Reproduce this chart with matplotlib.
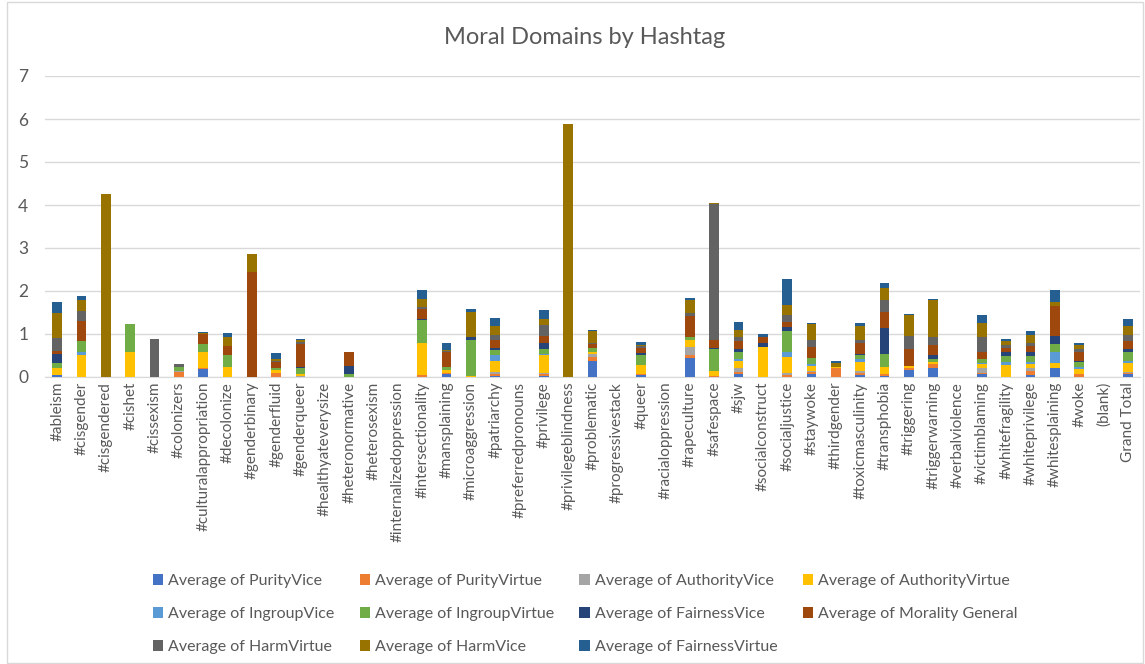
import numpy as np
import matplotlib.pyplot as plt
from matplotlib.patches import Rectangle

plt.rcParams['font.family'] = ['Lato', 'DejaVu Sans']

hashtags = ['#ableism', '#cisgender', '#cisgendered', '#cishet', '#cissexism', '#colonizers',
            '#culturalappropriation', '#decolonize', '#genderbinary', '#genderfluid', '#genderqueer',
            '#healthyateverysize', '#heteronormative', '#heterosexism', '#internalizedoppression',
            '#intersectionality', '#mansplaining', '#microaggression', '#patriarchy',
            '#preferredpronouns', '#privilege', '#privilegeblindness', '#problematic',
            '#progressivestack', '#queer', '#racialoppression', '#rapeculture', '#safespace', '#sjw',
            '#socialconstruct', '#socialjustice', '#staywoke', '#thirdgender', '#toxicmasculinity',
            '#transphobia', '#triggering', '#triggerwarning', '#verbalviolence', '#victimblaming',
            '#whitefragility', '#whiteprivilege', '#whitesplaining', '#woke', '(blank)', 'Grand Total']

# one list per series, same order as hashtags
purity_vice = [0.04, 0, 0, 0, 0, 0, 0.18, 0, 0, 0, 0, 0, 0, 0, 0, 0, 0.07, 0, 0.03, 0, 0.03, 0, 0.38, 0, 0.04,
               0, 0.45, 0, 0.08, 0, 0, 0.07, 0, 0.05, 0.03, 0.16, 0.22, 0, 0.07, 0, 0.05, 0.22, 0, 0, 0.06]
purity_virtue = [0.015, 0, 0, 0, 0, 0.12, 0.04, 0, 0, 0.10, 0, 0, 0, 0, 0, 0.05, 0.02, 0, 0.03, 0, 0.04, 0, 0.08,
                 0, 0.04, 0, 0.05, 0.02, 0.04, 0, 0.05, 0.05, 0.20, 0.04, 0.03, 0.06, 0.09, 0, 0.03, 0, 0.09, 0,
                 0.07, 0, 0.04]
authority_vice = [0, 0, 0, 0, 0, 0.03, 0, 0, 0, 0, 0.03, 0, 0, 0, 0, 0, 0, 0, 0.06, 0, 0.02, 0, 0.08, 0, 0, 0,
                  0.20, 0, 0.08, 0, 0.04, 0.03, 0, 0.04, 0, 0, 0, 0, 0.12, 0, 0.06, 0, 0, 0, 0.02]
authority_virtue = [0.16, 0.50, 0, 0.59, 0, 0, 0.35, 0.23, 0, 0.06, 0.05, 0, 0, 0, 0, 0.74, 0.08, 0.02, 0.26, 0,
                    0.41, 0, 0.05, 0, 0.19, 0, 0.15, 0.12, 0.18, 0.70, 0.37, 0.11, 0.04, 0.23, 0.18, 0.04, 0.05,
                    0, 0.08, 0.28, 0.10, 0.10, 0.11, 0, 0.21]
ingroup_vice = [0, 0.09, 0, 0, 0, 0, 0, 0, 0, 0, 0, 0, 0, 0, 0, 0, 0, 0, 0.12, 0, 0.04, 0, 0, 0, 0.02, 0, 0, 0,
                0.03, 0, 0.13, 0.04, 0, 0.06, 0, 0, 0, 0, 0.02, 0.08, 0.05, 0.25, 0.05, 0, 0.04]
ingroup_virtue = [0.10, 0.25, 0, 0.64, 0, 0.08, 0.19, 0.28, 0, 0.06, 0.14, 0, 0.08, 0, 0, 0.54, 0.07, 0.84, 0.12,
                  0, 0.12, 0, 0.08, 0, 0.23, 0, 0.08, 0.51, 0.18, 0, 0.47, 0.14, 0, 0.09, 0.29, 0, 0.07, 0, 0.09,
                  0.13, 0.13, 0.19, 0.12, 0, 0.22]
fairness_vice = [0.22, 0, 0, 0, 0, 0, 0, 0, 0, 0, 0.02, 0, 0.17, 0, 0, 0.02, 0, 0.06, 0.06, 0, 0.12, 0, 0, 0, 0.03,
                 0, 0, 0.02, 0.07, 0.08, 0.10, 0, 0, 0.02, 0.62, 0, 0.08, 0, 0.02, 0.08, 0.10, 0.19, 0.03, 0, 0.06]
morality_general = [0.07, 0.46, 0, 0, 0, 0, 0.23, 0.22, 2.44, 0.13, 0.53, 0, 0.34, 0, 0, 0.22, 0.34, 0, 0.17, 0,
                    0.17, 0, 0.10, 0, 0.12, 0, 0.50, 0.19, 0.18, 0.14, 0.13, 0.25, 0, 0.25, 0.36, 0.38, 0.23, 0,
                    0.15, 0.10, 0.15, 0.70, 0.19, 0, 0.19]
harm_virtue = [0.31, 0.23, 0, 0, 0.88, 0.08, 0, 0, 0, 0.03, 0.05, 0, 0, 0, 0, 0.05, 0.02, 0, 0.12, 0, 0.25, 0,
               0.03, 0, 0.04, 0, 0.05, 3.16, 0.09, 0, 0.16, 0.16, 0, 0.08, 0.27, 0.31, 0.18, 0, 0.34, 0.08, 0.05,
               0, 0.09, 0, 0.13]
harm_vice = [0.57, 0.26, 4.25, 0, 0, 0, 0.04, 0.19, 0.43, 0.03, 0.04, 0, 0, 0, 0, 0.19, 0.02, 0.60, 0.22, 0, 0.15,
             5.88, 0.27, 0, 0.04, 0, 0.30, 0.03, 0.16, 0, 0.23, 0.39, 0.08, 0.33, 0.29, 0.50, 0.88, 0, 0.33, 0.09,
             0.20, 0.10, 0.09, 0, 0.22]
fairness_virtue = [0.26, 0.10, 0, 0, 0, 0, 0.02, 0.10, 0, 0.15, 0.02, 0, 0, 0, 0, 0.22, 0.16, 0.05, 0.19, 0, 0.21,
                   0, 0.02, 0, 0.06, 0, 0.06, 0, 0.18, 0.09, 0.60, 0.02, 0.06, 0.06, 0.11, 0.02, 0.02, 0, 0.19,
                   0.04, 0.08, 0.27, 0.04, 0, 0.17]

series = [
    ('Average of PurityVice', purity_vice, '#4472C4'),
    ('Average of PurityVirtue', purity_virtue, '#ED7D31'),
    ('Average of AuthorityVice', authority_vice, '#A5A5A5'),
    ('Average of AuthorityVirtue', authority_virtue, '#FFC000'),
    ('Average of IngroupVice', ingroup_vice, '#5B9BD5'),
    ('Average of IngroupVirtue', ingroup_virtue, '#70AD47'),
    ('Average of FairnessVice', fairness_vice, '#264478'),
    ('Average of Morality General', morality_general, '#9E480E'),
    ('Average of HarmVirtue', harm_virtue, '#636363'),
    ('Average of HarmVice', harm_vice, '#997300'),
    ('Average of FairnessVirtue', fairness_virtue, '#255E91'),
]

text_col = '#595959'
fig = plt.figure(figsize=(11.45, 6.64), dpi=100)
ax = fig.add_axes([45 / 1145, 1 - 377 / 664, 1095 / 1145, 301 / 664])

x = np.arange(len(hashtags))
bottom = np.zeros(len(hashtags))
handles = []
for name, vals, col in series:
    vals = np.array(vals)
    b = ax.bar(x, vals, 0.4, bottom=bottom, color=col, label=name, linewidth=0, zorder=3)
    handles.append(b)
    bottom += vals

ax.set_xlim(-0.5, len(hashtags) - 0.5)
ax.set_ylim(0, 7)
ax.set_yticks(range(8))
ax.yaxis.grid(True, color='#D9D9D9', linewidth=1)
ax.set_axisbelow(True)
for s in ['top', 'right', 'left']:
    ax.spines[s].set_visible(False)
ax.spines['bottom'].set_color('#D9D9D9')
ax.tick_params(axis='both', length=0, colors=text_col)
ax.tick_params(axis='y', labelsize=12.5, pad=12)
ax.set_xticks(x)
ax.set_xticklabels(hashtags, rotation=90, fontsize=11, color=text_col)

fig.text(585 / 1145, 1 - 38 / 664, 'Moral Domains by Hashtag', ha='center', va='center',
         fontsize=17, color=text_col)

order = [0, 4, 8, 1, 5, 9, 2, 6, 10, 3, 7]
fig.legend([handles[i] for i in order], [series[i][0] for i in order], ncol=4,
           loc='center', bbox_to_anchor=(585 / 1145, 1 - 614 / 664), frameon=False,
           fontsize=11.5, handlelength=0.65, handleheight=0.65, handletextpad=0.3,
           columnspacing=1.6, labelspacing=1.2, labelcolor=text_col)

fig.patches.append(Rectangle((7 / 1145, 1 / 664), 1136 / 1145, 661 / 664, transform=fig.transFigure,
                             fill=False, edgecolor='#D9D9D9', linewidth=1))

fig.savefig('out.png', dpi=100)
